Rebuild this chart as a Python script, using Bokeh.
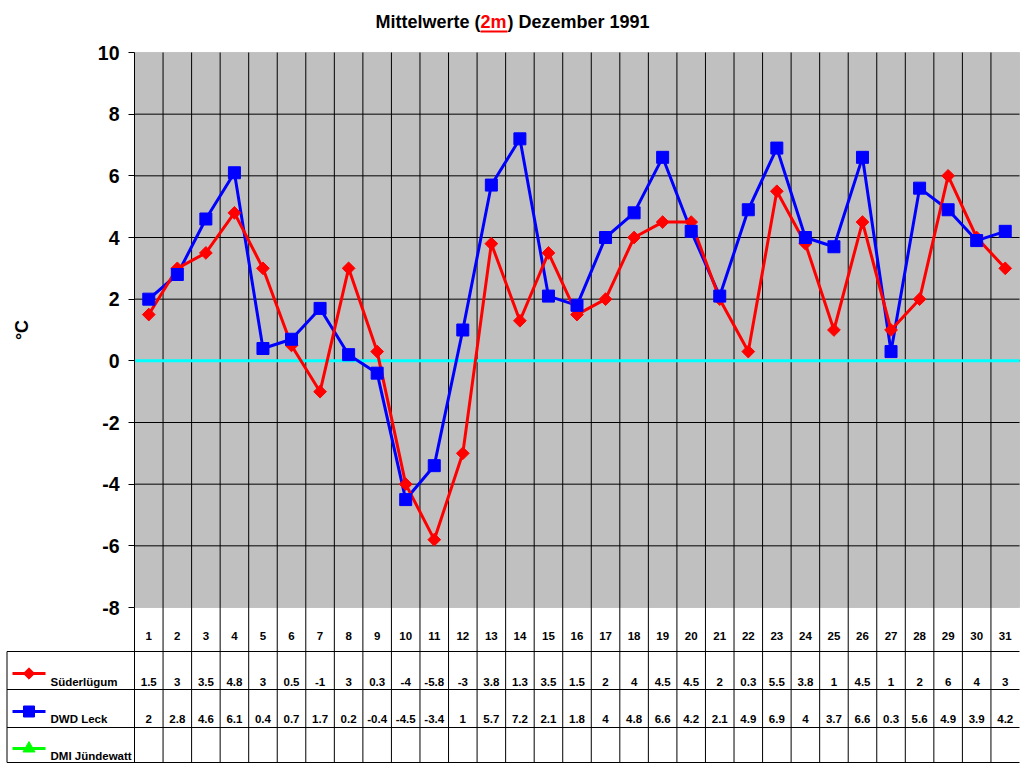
import math
from bokeh.plotting import figure
from bokeh.models import Range1d, FixedTicker, LinearAxis, BoxAnnotation
from bokeh.core.properties import value
from bokeh.embed import file_html
from bokeh.resources import INLINE

# ---------------- data ----------------
days = list(range(1, 32))
suederluegum = [1.5, 3, 3.5, 4.8, 3, 0.5, -1, 3, 0.3, -4, -5.8, -3, 3.8, 1.3, 3.5, 1.5,
                2, 4, 4.5, 4.5, 2, 0.3, 5.5, 3.8, 1, 4.5, 1, 2, 6, 4, 3]
dwd_leck = [2, 2.8, 4.6, 6.1, 0.4, 0.7, 1.7, 0.2, -0.4, -4.5, -3.4, 1, 5.7, 7.2, 2.1, 1.8,
            4, 4.8, 6.6, 4.2, 2.1, 4.9, 6.9, 4, 3.7, 6.6, 0.3, 5.6, 4.9, 3.9, 4.2]
dmi_juendewatt = []  # no values in the source
series_names = ["Süderlügum", "DWD Leck", "DMI Jündewatt"]
y_ticks = list(range(-8, 11, 2))
title_parts = ["Mittelwerte (", "2m", ") Dezember 1991"]

FONT = value("Liberation Sans")
RED, BLUE, GREEN = "#ff0000", "#0000ff", "#00ff00"

# ---------------- geometry (page pixels) ----------------
W, H = 1024, 768
PL, PR = 134, 1019      # plot area left / right
PT, PB = 52, 607        # plot area top / bottom
YMIN, YMAX = -8, 10
XMIN, XMAX = 0.5, 31.5
UX = (PR - PL) / (XMAX - XMIN)
UY = (PB - PT) / (YMAX - YMIN)

def xd(px):
    return XMIN + (px - PL) / UX

def yd(py):
    return YMAX - (py - PT) / UY

p = figure(width=W, height=H, output_backend="svg", toolbar_location=None,
           x_axis_location=None, y_axis_location=None,
           x_range=Range1d(xd(0), xd(W)), y_range=Range1d(yd(H), yd(0)),
           min_border=0, outline_line_color=None,
           background_fill_color="white", border_fill_color="white")
p.grid.visible = False

# plot area background + border
p.add_layout(BoxAnnotation(left=XMIN, right=XMAX, bottom=YMIN, top=YMAX,
                           fill_color="#c0c0c0", fill_alpha=1.0,
                           line_color="#808080", line_width=1, level="underlay"))

# y axis at the left edge of the plot area
yax = LinearAxis(fixed_location=XMIN, bounds=(YMIN, YMAX), ticker=FixedTicker(ticks=y_ticks),
                 major_label_overrides={t: str(t) for t in y_ticks},
                 axis_label="°C")
yax.minor_tick_line_color = None
yax.major_tick_in = 0
yax.major_tick_out = 6
yax.major_tick_line_color = "black"
yax.axis_line_color = "black"
yax.major_label_text_font = "Liberation Sans"
yax.major_label_text_font_style = "bold"
yax.major_label_text_font_size = "19.5px"
yax.major_label_text_color = "black"
yax.major_label_standoff = 9
yax.axis_label_text_font = "Liberation Sans"
yax.axis_label_text_font_style = "bold"
yax.axis_label_text_font_size = "18px"
yax.axis_label_text_color = "black"
yax.axis_label_standoff = 63
p.add_layout(yax, "left")

# grid lines
hg = [t for t in y_ticks if YMIN < t < YMAX]
p.segment(x0=[XMIN] * len(hg), y0=hg, x1=[XMAX] * len(hg), y1=hg, line_color="black", line_width=1)
tb = yd(762)   # table bottom
vg = [d + 0.5 for d in days[:-1]]
p.segment(x0=vg, y0=[YMAX] * len(vg), x1=vg, y1=[tb] * len(vg), line_color="black", line_width=1)
# zero line
p.segment(x0=[XMIN], y0=[0], x1=[XMAX], y1=[0], line_color="#00ffff", line_width=3)

# series
p.line(days, dwd_leck, line_color=BLUE, line_width=3)
p.line(days, suederluegum, line_color=RED, line_width=3)
p.scatter(days, suederluegum, marker="square", angle=math.pi / 4, size=9,
          fill_color=RED, line_color=RED)
p.scatter(days, dwd_leck, marker="square", size=12, fill_color=BLUE, line_color=BLUE)

# ---------------- title ----------------
tt = dict(text_font=FONT, text_font_style="bold", text_font_size="18px", text_baseline="middle")
ty = yd(21)
p.text(x=[xd(480)], y=[ty], text=[title_parts[0]], text_align="right", text_color="black", **tt)
p.text(x=[xd(480)], y=[ty], text=[title_parts[1]], text_align="left", text_color=RED, **tt)
p.text(x=[xd(507)], y=[ty], text=[title_parts[2]], text_align="left", text_color="black", **tt)
p.segment(x0=[xd(480)], y0=[yd(31)], x1=[xd(507)], y1=[yd(31)], line_color=RED, line_width=2)

# ---------------- data table ----------------
xl = xd(6.5)
p.segment(x0=[xl, XMIN], y0=[yd(651), YMIN], x1=[xl, XMIN], y1=[tb, tb], line_color="black", line_width=1)
hy = [yd(651), yd(689), yd(727), yd(762)]
p.segment(x0=[xl] * 4, y0=hy, x1=[XMAX] * 4, y1=hy, line_color="black", line_width=1)

def fmt(v):
    return "%g" % v

txt = dict(text_font=FONT, text_font_style="bold", text_font_size="11.5px",
           text_baseline="middle", text_color="black")
p.text(x=days, y=[yd(635.5)] * 31, text=[str(d) for d in days], text_align="center", **txt)
p.text(x=days, y=[yd(681)] * 31, text=[fmt(v) for v in suederluegum], text_align="center", **txt)
p.text(x=days, y=[yd(718.5)] * 31, text=[fmt(v) for v in dwd_leck], text_align="center", **txt)
p.text(x=[xd(50)] * 3, y=[yd(681), yd(718.5), yd(755)], text=series_names, text_align="left", **txt)

mx0, mx1, mxc = xd(12), xd(45), xd(28.5)
my = [yd(673), yd(711), yd(748)]
p.segment(x0=[mx0] * 3, y0=my, x1=[mx1] * 3, y1=my, line_color=[RED, BLUE, GREEN], line_width=3)
p.scatter([mxc], [my[0]], marker="square", angle=math.pi / 4, size=8, fill_color=RED, line_color=RED)
p.scatter([mxc], [my[1]], marker="square", size=11, fill_color=BLUE, line_color=BLUE)
p.scatter([mxc], [my[2]], marker="triangle", size=12, fill_color=GREEN, line_color=GREEN)

open("out.html", "w").write(file_html(p, INLINE))
